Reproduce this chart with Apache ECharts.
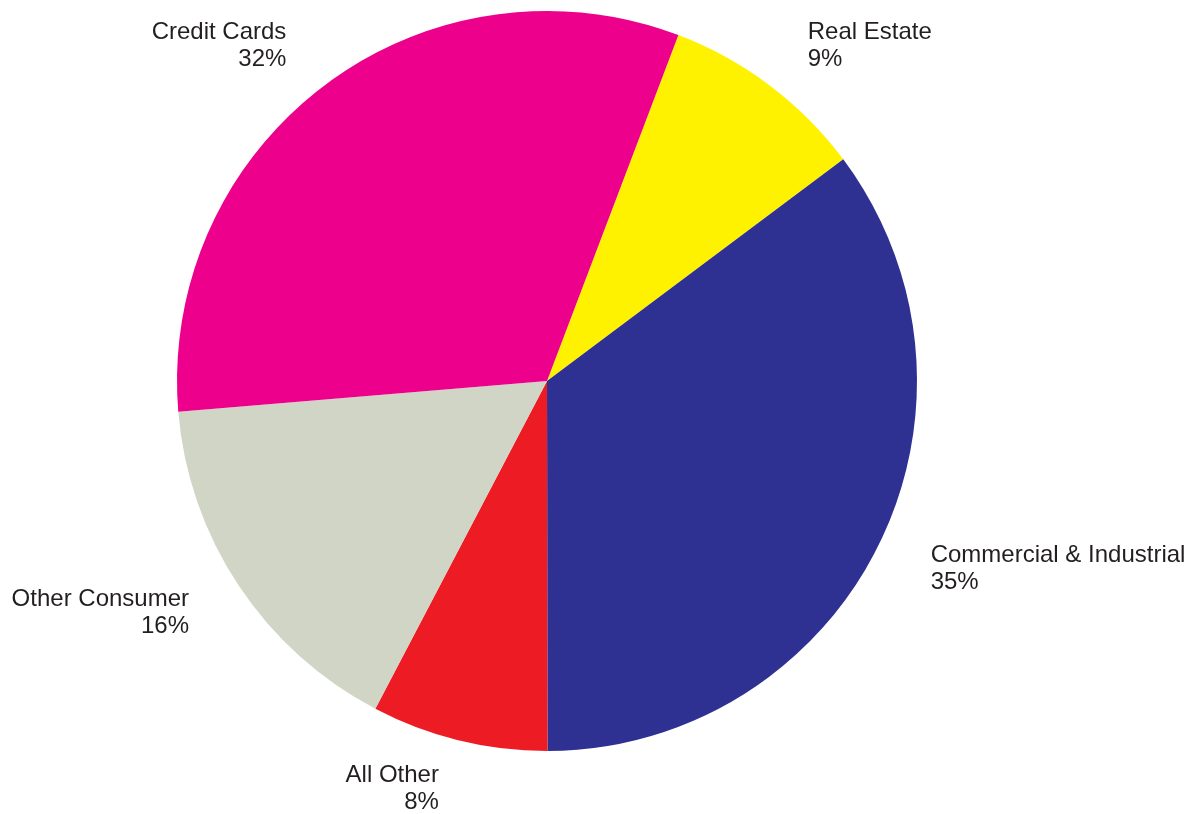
<!DOCTYPE html>
<html>
<head>
<meta charset="utf-8">
<script src="https://cdn.jsdelivr.net/npm/echarts@6/dist/echarts.min.js"></script>
<style>html,body{margin:0;padding:0;background:#fff;}#chart{width:1202px;height:814px;}</style>
</head>
<body>
<div id="chart"></div>
<script>
const categories = ['Real Estate', 'Commercial & Industrial', 'All Other', 'Other Consumer', 'Credit Cards'];
const values = [9.0, 35.2, 7.7, 16.0, 32.1];
const labelPercents = [9, 35, 8, 16, 32];
const colors = ['#FFF200', '#2E3192', '#ED1C24', '#D1D5C5', '#EC008C'];

const chart = echarts.init(document.getElementById('chart'));
chart.setOption({
  animation: false,
  backgroundColor: '#ffffff',
  series: [{
    type: 'pie',
    center: [547, 381],
    radius: 370,
    startAngle: 69.2,
    clockwise: true,
    avoidLabelOverlap: false,
    data: categories.map((c, i) => ({
      name: c,
      value: values[i],
      itemStyle: { color: colors[i] },
      label: { formatter: c + '\n' + labelPercents[i] + '%' }
    })),
    itemStyle: { borderWidth: 0 },
    label: {
      show: true,
      position: 'outside',
      fontFamily: '"Liberation Sans", Arial, sans-serif',
      fontSize: 24,
      lineHeight: 27,
      color: '#231F20'
    },
    labelLine: { show: false, length: 50, length2: 3 },
    emphasis: { disabled: true }
  }]
});
</script>
</body>
</html>
